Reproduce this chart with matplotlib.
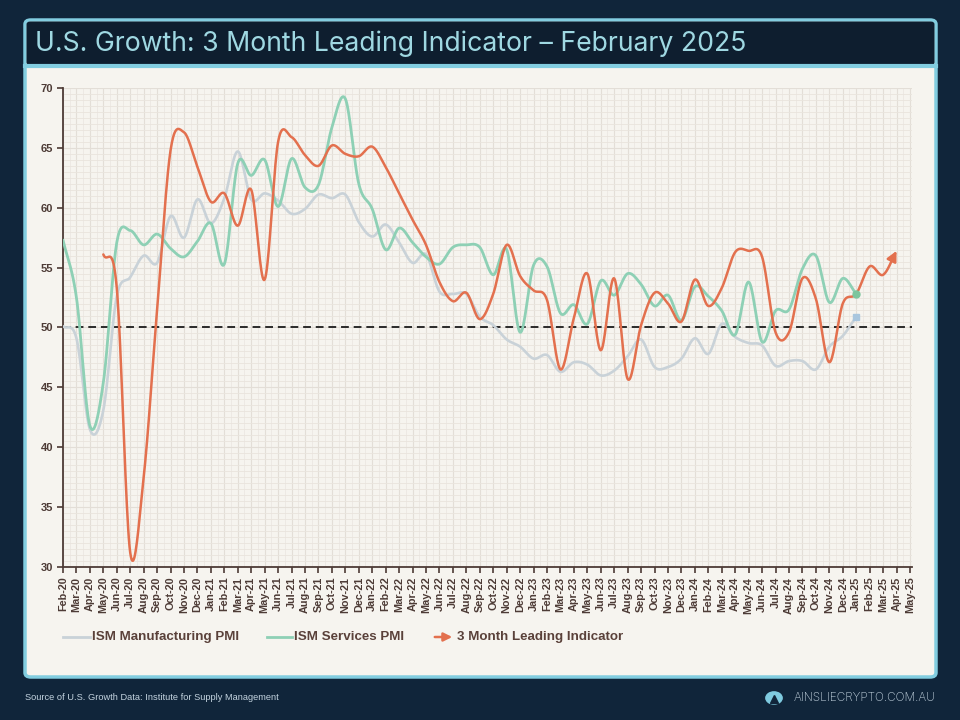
import matplotlib
matplotlib.use("Agg")
import matplotlib.pyplot as plt
import numpy as np
from matplotlib.patches import FancyBboxPatch, Circle, FancyArrowPatch
from matplotlib.lines import Line2D

# ---- data ----
months = ["Feb-20", "Mar-20", "Apr-20", "May-20", "Jun-20", "Jul-20", "Aug-20", "Sep-20", "Oct-20",
          "Nov-20", "Dec-20", "Jan-21", "Feb-21", "Mar-21", "Apr-21", "May-21", "Jun-21", "Jul-21",
          "Aug-21", "Sep-21", "Oct-21", "Nov-21", "Dec-21", "Jan-22", "Feb-22", "Mar-22", "Apr-22",
          "May-22", "Jun-22", "Jul-22", "Aug-22", "Sep-22", "Oct-22", "Nov-22", "Dec-22", "Jan-23",
          "Feb-23", "Mar-23", "Apr-23", "May-23", "Jun-23", "Jul-23", "Aug-23", "Sep-23", "Oct-23",
          "Nov-23", "Dec-23", "Jan-24", "Feb-24", "Mar-24", "Apr-24", "May-24", "Jun-24", "Jul-24",
          "Aug-24", "Sep-24", "Oct-24", "Nov-24", "Dec-24", "Jan-25", "Feb-25", "Mar-25", "Apr-25",
          "May-25"]

# Feb-20 .. Jan-25
ism_mfg = [50.1, 49.1, 41.5, 43.1, 52.6, 54.2, 56.0, 55.4, 59.3, 57.5, 60.7,
           58.7, 60.8, 64.7, 60.7, 61.2, 60.6, 59.5, 59.9, 61.1, 60.8, 61.1, 58.8,
           57.6, 58.6, 57.1, 55.4, 56.1, 53.0, 52.8, 52.8, 50.9, 50.2, 49.0, 48.4,
           47.4, 47.7, 46.3, 47.1, 46.9, 46.0, 46.4, 47.6, 49.0, 46.7, 46.7, 47.4,
           49.1, 47.8, 50.3, 49.2, 48.7, 48.5, 46.8, 47.2, 47.2, 46.5, 48.4, 49.3,
           50.9]

ism_services = [57.3, 52.5, 41.8, 45.4, 57.1, 58.1, 56.9, 57.8, 56.6, 55.9, 57.2,
                58.7, 55.3, 63.7, 62.7, 64.0, 60.1, 64.1, 61.7, 61.9, 66.7, 69.1, 62.0,
                59.9, 56.5, 58.3, 57.1, 55.9, 55.3, 56.7, 56.9, 56.7, 54.4, 56.5, 49.6,
                55.2, 55.1, 51.2, 51.9, 50.3, 53.9, 52.7, 54.5, 53.6, 51.8, 52.7, 50.6,
                53.4, 52.6, 51.4, 49.4, 53.8, 48.8, 51.4, 51.5, 54.9, 56.0, 52.1, 54.1,
                52.8]

# May-20 .. Apr-25
leading_start = 3
leading = [56.1, 53.3, 31.2, 37.5, 51.5, 64.8, 66.3, 63.4, 60.5, 61.2, 58.5, 61.5,
           54.0, 65.5, 65.9, 64.4, 63.5, 65.2, 64.5, 64.3, 65.1, 63.4, 61.2, 59.0,
           56.9, 53.8, 52.2, 52.9, 50.7, 52.8, 56.9, 54.3, 53.1, 52.3, 46.5, 50.8,
           54.5, 48.1, 54.1, 45.7, 50.2, 52.9, 52.0, 50.5, 54.0, 51.8, 53.3, 56.3,
           56.4, 55.9, 49.6, 49.6, 54.1, 52.4, 47.1, 52.0, 52.8, 55.1, 54.4, 56.4]


def smooth(x, y, n=20):
    # Catmull-Rom, like Excel's smoothed line
    x = np.asarray(x, float)
    y = np.asarray(y, float)
    px = np.concatenate([[2 * x[0] - x[1]], x, [2 * x[-1] - x[-2]]])
    py = np.concatenate([[2 * y[0] - y[1]], y, [2 * y[-1] - y[-2]]])
    t = np.linspace(0, 1, n, endpoint=False)
    xs, ys = [], []
    for i in range(len(x) - 1):
        for p, out in ((px, xs), (py, ys)):
            p0, p1, p2, p3 = p[i], p[i + 1], p[i + 2], p[i + 3]
            out.append(0.5 * (2 * p1 + (-p0 + p2) * t + (2 * p0 - 5 * p1 + 4 * p2 - p3) * t ** 2
                              + (-p0 + 3 * p1 - 3 * p2 + p3) * t ** 3))
    xs.append([x[-1]])
    ys.append([y[-1]])
    return np.concatenate(xs), np.concatenate(ys)


W, H = 960, 720
fig = plt.figure(figsize=(9.6, 7.2), dpi=100)
fig.patch.set_facecolor("#10253a")


def fx(px):
    return px / W


def fy(py):
    return 1 - py / H


# frame
panel = FancyBboxPatch((fx(25), fy(677)), fx(911), (677 - 20) / H, boxstyle="round,pad=0,rounding_size=0.006",
                       transform=fig.transFigure, facecolor="#f6f4ef", edgecolor="#82cde0", lw=2.5, zorder=0)
fig.add_artist(panel)
titlebar = FancyBboxPatch((fx(26.5), fy(65)), fx(908), (65 - 21.5) / H, boxstyle="round,pad=0,rounding_size=0.004",
                          transform=fig.transFigure, facecolor="#0e1e2f", edgecolor="none", zorder=0.5)
fig.add_artist(titlebar)
fig.add_artist(Line2D([fx(25), fx(936)], [fy(66), fy(66)], transform=fig.transFigure,
                      color="#82cde0", lw=3, zorder=1))

fig.text(fx(35), fy(44), "U.S. Growth: 3 Month Leading Indicator \u2013 February 2025",
         color="#9fd8e2", fontsize=19.2, family="Inter", va="center", ha="left")

# footer
fig.text(fx(25), fy(698), "Source of U.S. Growth Data: Institute for Supply Management",
         color="#c3d3df", fontsize=6.7, family="Liberation Sans", va="center", ha="left")
fig.text(fx(935), fy(698), "AINSLIECRYPTO.COM.AU", color="#c3d3df", fontsize=8.5,
         family="Inter", fontweight="light", va="center", ha="right")
fig.add_artist(Circle((fx(774), fy(698)), 0.0085, transform=fig.transFigure, color="#7fcbe0"))
fig.add_artist(Line2D([fx(774)], [fy(698.5)], transform=fig.transFigure, marker="^", ms=5.5,
                      color="#10253a", mec="#10253a"))

# axes
ax = fig.add_axes([fx(63), fy(567), fx(912 - 63), (567 - 88) / H])
ax.set_facecolor("#f6f4ef")
x_all = np.arange(len(months))

ax.set_xlim(0, 63.15)
ax.set_ylim(30, 70)

ax.set_xticks(x_all)
ax.set_xticks(x_all[:-1] + 0.5, minor=True)
ax.set_yticks(np.arange(30, 71, 5))
ax.grid(which="major", color="#e3ded7", lw=0.8)
ax.grid(which="minor", axis="x", color="#ece8e2", lw=0.6)
ax.tick_params(axis="both", which="minor", length=0)
ax.set_yticks(np.arange(30.5, 70, 0.5), minor=True)
ax.grid(which="minor", axis="y", color="#e9e4dd", lw=0.6)

ax.set_xticklabels(months, rotation=90, fontsize=7.8, family="Liberation Sans",
                   fontweight="bold", color="#4d3b36")
ax.set_yticklabels([str(v) for v in range(30, 71, 5)], fontsize=8, family="Liberation Sans",
                   fontweight="bold", color="#4d3b36")
ax.tick_params(axis="both", which="major", length=4, width=1.2, color="#4d3b36", pad=3)
for s in ["top", "right"]:
    ax.spines[s].set_visible(False)
for s in ["left", "bottom"]:
    ax.spines[s].set_color("#4d3b36")
    ax.spines[s].set_linewidth(1.3)

ax.axhline(50, color="#2a2a2a", lw=1.4, ls=(0, (4, 2.5)), zorder=2)

c_mfg = "#c9d2d8"
c_srv = "#8ed0b5"
c_lead = "#e3704e"

xs, ys = smooth(x_all[:len(ism_mfg)], ism_mfg)
ax.plot(xs, ys, color=c_mfg, lw=1.9, zorder=3, solid_capstyle="round")
ax.plot([len(ism_mfg) - 1], [ism_mfg[-1]], marker="s", ms=5, color="#a9c6de", zorder=5)

xs, ys = smooth(x_all[:len(ism_services)], ism_services)
ax.plot(xs, ys, color=c_srv, lw=2, zorder=3, solid_capstyle="round")
ax.plot([len(ism_services) - 1], [ism_services[-1]], marker="o", ms=5, color="#7cc59d", zorder=5)

lx = np.arange(leading_start, leading_start + len(leading))
xs, ys = smooth(lx, leading)
ax.plot(xs[:-3], ys[:-3], color=c_lead, lw=1.8, zorder=4, solid_capstyle="round")
ax.annotate("", xy=(xs[-1], ys[-1]), xytext=(xs[-5], ys[-5]),
            arrowprops=dict(arrowstyle="-|>,head_length=0.6,head_width=0.3", color=c_lead, lw=1.8,
                            shrinkA=0, shrinkB=0), zorder=4)

# legend
ly = fy(637)
items = [(63, 90, 92, "ISM Manufacturing PMI", c_mfg, False),
         (267, 292, 294, "ISM Services PMI", c_srv, False),
         (432, 455, 457, "3 Month Leading Indicator", c_lead, True)]
for x0, x1, xt, label, col, arrow in items:
    if arrow:
        fig.add_artist(FancyArrowPatch((fx(x0), ly), (fx(x1), ly), transform=fig.transFigure,
                                       arrowstyle="-|>,head_length=5,head_width=2.5", color=col, lw=1.8))
    else:
        fig.add_artist(Line2D([fx(x0), fx(x1)], [ly, ly], transform=fig.transFigure, color=col, lw=2))
    fig.text(fx(xt), ly, label, fontsize=9.6, family="Liberation Sans", fontweight="bold",
             color="#5a413a", va="center", ha="left")

fig.savefig("out.png", dpi=100, facecolor=fig.get_facecolor())
